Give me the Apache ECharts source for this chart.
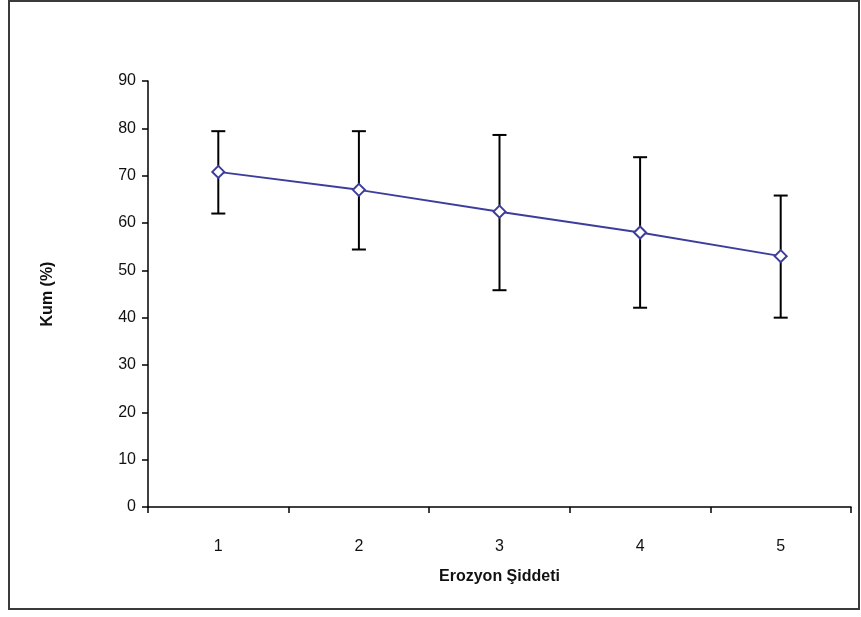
<!DOCTYPE html>
<html>
<head>
<meta charset="utf-8">
<script src="https://cdn.jsdelivr.net/npm/echarts@6/dist/echarts.min.js"></script>
<style>
html,body{margin:0;padding:0;background:#fff;}
#c{width:861px;height:617px;}
</style>
</head>
<body>
<div id="c"></div>
<script>
const categories = ['1', '2', '3', '4', '5'];
const means = [70.8, 67.0, 62.4, 58.0, 53.0];
const upperValues = [79.4, 79.4, 78.6, 73.9, 65.8];
const lowerValues = [62.0, 54.4, 45.8, 42.1, 40.0];
const xName = 'Erozyon Şiddeti';
const yName = 'Kum (%)';

const errData = categories.map((c, i) => [i, lowerValues[i], upperValues[i]]);

const chart = echarts.init(document.getElementById('c'), null, {renderer: 'canvas'});
const font = 'Liberation Sans, Arial, sans-serif';
chart.setOption({
  backgroundColor: '#fff',
  animation: false,
  graphic: [{
    type: 'rect',
    shape: {x: 9, y: 1, width: 850, height: 608},
    style: {fill: 'none', stroke: '#3a3a3a', lineWidth: 2},
    silent: true, z: 0
  }],
  grid: {left: 148, right: 10, top: 81, bottom: 110, containLabel: false},
  xAxis: {
    type: 'category',
    data: categories,
    boundaryGap: true,
    name: xName,
    nameLocation: 'middle',
    nameGap: 62,
    nameTextStyle: {fontFamily: font, fontSize: 16, fontWeight: 'bold', color: '#111'},
    axisLine: {lineStyle: {color: '#000', width: 1.5}},
    axisTick: {show: true, inside: false, length: 6, lineStyle: {color: '#000', width: 1.5}},
    axisLabel: {fontFamily: font, fontSize: 16, color: '#111', margin: 32},
    splitLine: {show: false}
  },
  yAxis: {
    type: 'value',
    min: 0, max: 90, interval: 10,
    name: yName,
    nameLocation: 'middle',
    nameGap: 92,
    nameRotate: 90,
    nameTextStyle: {fontFamily: font, fontSize: 16, fontWeight: 'bold', color: '#111'},
    axisLine: {show: true, lineStyle: {color: '#000', width: 1.5}},
    axisTick: {show: true, inside: false, length: 6, lineStyle: {color: '#000', width: 1.5}},
    axisLabel: {fontFamily: font, fontSize: 16, color: '#111', margin: 12},
    splitLine: {show: false}
  },
  series: [
    {
      type: 'custom',
      name: 'err',
      z: 1,
      data: errData,
      renderItem: function (params, api) {
        const x = api.value(0);
        const lo = api.coord([x, api.value(1)]);
        const hi = api.coord([x, api.value(2)]);
        const hw = 7;
        const st = {stroke: '#000', lineWidth: 2};
        return {
          type: 'group',
          children: [
            {type: 'line', shape: {x1: hi[0], y1: hi[1], x2: lo[0], y2: lo[1]}, style: st},
            {type: 'line', shape: {x1: hi[0] - hw, y1: hi[1], x2: hi[0] + hw, y2: hi[1]}, style: st},
            {type: 'line', shape: {x1: lo[0] - hw, y1: lo[1], x2: lo[0] + hw, y2: lo[1]}, style: st}
          ]
        };
      }
    },
    {
      type: 'line',
      name: 'Kum',
      z: 3,
      data: means,
      symbol: 'diamond',
      symbolSize: 12,
      lineStyle: {color: '#3d3d9c', width: 2},
      itemStyle: {color: '#fff', borderColor: '#3d3d9c', borderWidth: 2}
    }
  ]
});
</script>
</body>
</html>
